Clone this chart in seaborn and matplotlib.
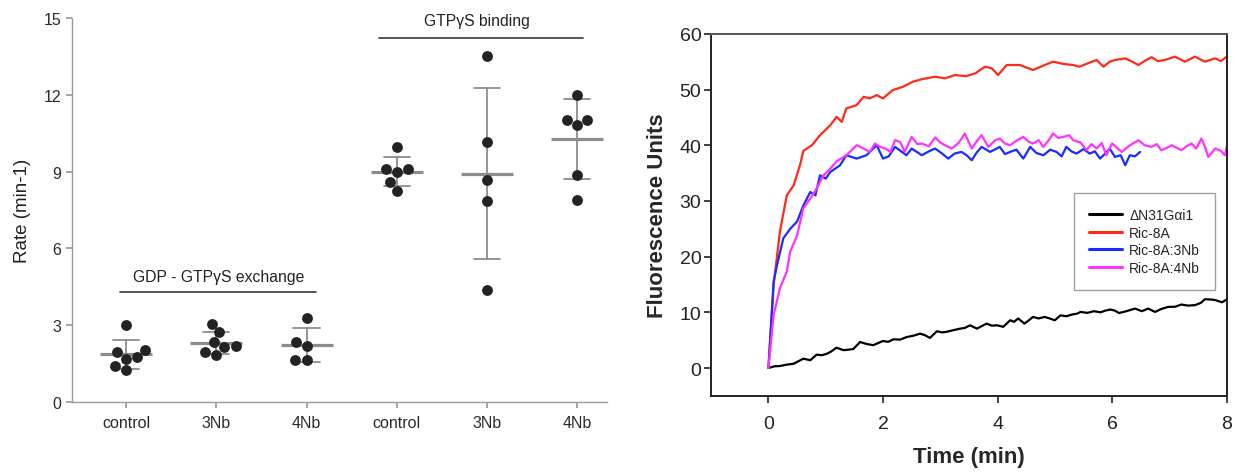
import matplotlib
matplotlib.use("Agg")
import matplotlib.pyplot as plt
import numpy as np
import pandas as pd
import seaborn as sns

# left panel: rates (min-1)
group_keys = ["gdp_control", "gdp_3nb", "gdp_4nb", "gtp_control", "gtp_3nb", "gtp_4nb"]
tick_labels = ["control", "3Nb", "4Nb", "control", "3Nb", "4Nb"]
gdp_control = [3.0, 2.05, 1.95, 1.75, 1.7, 1.4, 1.25]
gdp_3nb = [3.05, 2.73, 2.35, 2.2, 2.15, 1.95, 1.85]
gdp_4nb = [3.27, 2.33, 2.2, 1.65, 1.65]
gtp_control = [9.95, 9.1, 9.1, 9.0, 8.6, 8.25]
gtp_3nb = [13.53, 10.14, 8.67, 7.84, 4.38]
gtp_4nb = [11.99, 11.03, 11.03, 10.83, 8.88, 7.89]

# right panel: fluorescence traces
t_black = [0, 0.1, 0.2, 0.32, 0.44, 0.52, 0.61, 0.73, 0.84, 0.93, 1.02, 1.1, 1.19, 1.31, 1.4,
           1.48, 1.6, 1.72, 1.83, 1.92, 2.0, 2.09, 2.18, 2.3, 2.41, 2.53, 2.65, 2.73, 2.82,
           2.94, 3.03, 3.11, 3.23, 3.35, 3.43, 3.52, 3.64, 3.72, 3.81, 3.9, 3.99, 4.1, 4.22,
           4.29, 4.36, 4.47, 4.55, 4.62, 4.72, 4.82, 4.91, 5.0, 5.1, 5.2, 5.3, 5.39, 5.45,
           5.57, 5.68, 5.8, 5.88, 5.97, 6.05, 6.12, 6.25, 6.4, 6.52, 6.63, 6.75, 6.86, 6.98,
           7.1, 7.21, 7.33, 7.45, 7.55, 7.62, 7.72, 7.8, 7.92, 8.0]
f_black = [0, 0.3, 0.36, 0.6, 0.77, 1.2, 1.67, 1.4, 2.4, 2.3, 2.55, 3.0, 3.65, 3.2, 3.3,
           3.4, 4.67, 4.3, 4.1, 4.5, 4.85, 4.7, 5.15, 5.1, 5.55, 5.8, 6.17, 5.9, 5.4,
           6.6, 6.4, 6.5, 6.8, 7.07, 7.2, 7.67, 7.07, 7.5, 7.97, 7.6, 7.67, 7.4, 8.57,
           8.3, 8.9, 7.97, 8.6, 9.17, 8.9, 9.17, 8.9, 8.57, 9.46, 9.3, 9.6, 9.76, 10.07,
           9.9, 10.2, 10.0, 10.3, 10.5, 10.3, 9.87, 10.2, 10.67, 10.2, 10.67, 10.07, 10.6, 10.97,
           11.0, 11.4, 11.2, 11.3, 11.7, 12.35, 12.3, 12.2, 11.8, 12.3]

t_red = [0, 0.09, 0.2, 0.32, 0.44, 0.55, 0.61, 0.76, 0.9, 1.08, 1.19, 1.28, 1.36, 1.54,
         1.66, 1.77, 1.89, 2.0, 2.17, 2.35, 2.52, 2.7, 2.91, 3.08, 3.26, 3.45, 3.61, 3.78,
         3.9, 4.01, 4.16, 4.39, 4.62, 4.8, 4.97, 5.15, 5.32, 5.43, 5.6, 5.73, 5.85, 5.96,
         6.05, 6.23, 6.35, 6.46, 6.58, 6.69, 6.8, 6.92, 7.1, 7.27, 7.45, 7.62, 7.8, 7.9, 8.0]
f_red = [0, 14.9, 24.5, 31.0, 32.8, 36.4, 39.0, 40.0, 41.8, 43.6, 45.1, 44.2, 46.6, 47.2,
         48.7, 48.4, 49.0, 48.4, 49.9, 50.5, 51.4, 51.9, 52.3, 52.0, 52.6, 52.4, 52.9, 54.1,
         53.8, 52.6, 54.4, 54.4, 53.5, 54.3, 55.0, 54.6, 54.4, 54.1, 54.8, 55.3, 54.1, 55.0,
         55.3, 55.6, 55.0, 54.4, 55.2, 55.8, 55.1, 55.3, 55.9, 55.0, 55.9, 55.0, 55.6, 55.1, 55.9]

t_blue = [0, 0.09, 0.15, 0.26, 0.38, 0.5, 0.61, 0.73, 0.82, 0.9, 1.0, 1.08, 1.25, 1.36,
          1.54, 1.71, 1.89, 2.0, 2.1, 2.21, 2.41, 2.5, 2.68, 2.8, 2.91, 3.02, 3.14, 3.25,
          3.37, 3.46, 3.55, 3.63, 3.72, 3.87, 4.04, 4.13, 4.22, 4.33, 4.45, 4.57, 4.68, 4.8,
          4.92, 5.03, 5.12, 5.2, 5.29, 5.38, 5.5, 5.61, 5.7, 5.79, 5.88, 5.96, 6.05, 6.15,
          6.23, 6.31, 6.4, 6.49]
f_blue = [0, 15.5, 18.5, 23.3, 25.0, 26.3, 29.2, 31.6, 31.0, 34.6, 34.0, 35.2, 36.4, 38.2,
          37.6, 38.2, 40.0, 37.6, 38.0, 39.7, 38.2, 39.4, 38.2, 38.9, 39.4, 38.6, 37.6, 38.5,
          38.8, 38.2, 37.3, 38.6, 39.7, 38.8, 39.7, 38.4, 38.8, 39.2, 37.6, 39.7, 38.6, 38.2,
          39.2, 38.8, 38.0, 39.7, 38.9, 38.5, 39.3, 38.5, 38.9, 37.6, 38.5, 39.4, 37.9, 38.2,
          36.4, 38.2, 38.0, 38.8]

t_mag = [0, 0.09, 0.2, 0.32, 0.38, 0.5, 0.61, 0.73, 0.84, 0.96, 1.08, 1.19, 1.36, 1.54,
         1.66, 1.77, 1.86, 1.95, 2.04, 2.13, 2.21, 2.3, 2.38, 2.5, 2.6, 2.68, 2.8, 2.91,
         3.0, 3.08, 3.2, 3.32, 3.43, 3.55, 3.63, 3.72, 3.84, 3.96, 4.04, 4.13, 4.22, 4.33,
         4.45, 4.55, 4.62, 4.72, 4.8, 4.9, 4.97, 5.06, 5.15, 5.25, 5.32, 5.45, 5.55, 5.64,
         5.73, 5.82, 5.9, 6.0, 6.08, 6.17, 6.3, 6.46, 6.57, 6.69, 6.78, 6.86, 6.95, 7.04,
         7.12, 7.21, 7.3, 7.39, 7.47, 7.56, 7.62, 7.68, 7.8, 7.9, 7.97, 8.0]
f_mag = [0, 9.5, 14.3, 17.3, 20.9, 23.8, 28.7, 30.4, 32.2, 34.6, 35.8, 37.1, 38.2, 40.0,
         39.4, 38.8, 40.3, 39.7, 39.4, 38.8, 40.9, 40.6, 38.8, 41.5, 40.2, 40.3, 39.8, 41.4,
         40.5, 40.0, 39.4, 40.4, 42.1, 39.4, 40.6, 41.8, 39.7, 40.9, 41.2, 40.3, 40.0, 40.8,
         41.5, 40.6, 40.3, 40.9, 39.7, 41.0, 42.1, 41.3, 41.5, 41.8, 40.9, 40.5, 39.1, 40.2,
         39.4, 40.4, 38.2, 40.3, 39.6, 38.8, 39.9, 40.9, 40.0, 39.7, 40.2, 39.1, 39.5, 40.0,
         39.6, 39.1, 39.8, 40.3, 39.4, 41.2, 39.8, 37.9, 39.4, 39.0, 38.2, 39.7]

series = [
    ("\u0394N31G\u03b1i1", t_black, f_black, "black"),
    ("Ric-8A", t_red, f_red, "#ff2a1a"),
    ("Ric-8A:3Nb", t_blue, f_blue, "#1a2cff"),
    ("Ric-8A:4Nb", t_mag, f_mag, "#ff33ff"),
]

sns.set_theme(style="ticks")
plt.rcParams["font.family"] = ["Liberation Sans", "DejaVu Sans"]

fig = plt.figure(figsize=(12.39, 4.77), dpi=100)

# ---- left: dot plot with mean +/- SD
ax1 = fig.add_axes([0.058, 0.155, 0.432, 0.805])
values = [gdp_control, gdp_3nb, gdp_4nb, gtp_control, gtp_3nb, gtp_4nb]
df = pd.DataFrame({
    "group": np.concatenate([[k] * len(v) for k, v in zip(group_keys, values)]),
    "rate": np.concatenate(values),
})

gray = "#8c8c8c"
sns.pointplot(data=df, x="group", y="rate", order=group_keys, errorbar="sd",
              capsize=0.29, color=gray, marker="_", markersize=37, markeredgewidth=2.3,
              linestyle="none", err_kws={"linewidth": 1.3, "color": gray}, ax=ax1)
sns.swarmplot(data=df, x="group", y="rate", order=group_keys, color="#232323",
              size=7.8, ax=ax1, zorder=5)

ax1.set_xlim(-0.6, 5.33)
ax1.set_ylim(0, 15)
ax1.set_yticks([0, 3, 6, 9, 12, 15])
ax1.set_xticks(range(6))
ax1.set_xticklabels(tick_labels)
ax1.set_xlabel("")
ax1.set_ylabel("Rate (min-1)", fontsize=13.5, color="#222222", labelpad=9)
for s in ["top", "right"]:
    ax1.spines[s].set_visible(False)
for s in ["left", "bottom"]:
    ax1.spines[s].set_color("#9a9a9a")
    ax1.spines[s].set_linewidth(1.0)
ax1.tick_params(axis="both", colors="#9a9a9a", labelcolor="#2a2a2a", labelsize=11.5, length=4)
ax1.tick_params(axis="x", pad=5)

ax1.plot([-0.07, 2.1], [4.3, 4.3], color="#3a3a3a", lw=1.2, clip_on=False)
ax1.text(1.03, 4.9, "GDP - GTP\u03b3S exchange", ha="center", va="center",
         fontsize=11.3, color="#222222")
ax1.plot([2.8, 5.06], [14.23, 14.23], color="#3a3a3a", lw=1.2, clip_on=False)
ax1.text(3.89, 14.9, "GTP\u03b3S binding", ha="center", va="center",
         fontsize=11.3, color="#222222", clip_on=False)

# ---- right: fluorescence traces
ax2 = fig.add_axes([0.574, 0.168, 0.416, 0.759])
for name, t, f, c in series:
    sns.lineplot(x=t, y=f, color=c, label=name, linewidth=1.6, sort=False,
                 estimator=None, ax=ax2)

ax2.set_xlim(-1, 8)
ax2.set_ylim(-5, 60)
ax2.set_xticks([0, 2, 4, 6, 8])
ax2.set_yticks([0, 10, 20, 30, 40, 50, 60])
ax2.set_xlabel("Time (min)", fontsize=16, fontweight="bold", labelpad=10)
ax2.set_ylabel("Fluorescence Units", fontsize=16, fontweight="bold", labelpad=8)
for s in ax2.spines.values():
    s.set_color("#222222")
    s.set_linewidth(1.4)
ax2.spines["top"].set_color("#555555")
ax2.tick_params(axis="both", labelsize=14, length=5, width=1.2, colors="#222222")
ax2.tick_params(axis="y", pad=2)
ax2.tick_params(axis="x", pad=9)

leg = ax2.legend(loc="upper left", bbox_to_anchor=(0.69, 0.58), fontsize=10,
                 frameon=True, fancybox=False, edgecolor="#8a8a8a",
                 handlelength=2.4, handletextpad=0.5, borderpad=1.1, labelspacing=0.25)
leg.get_frame().set_linewidth(1.0)
for h in leg.get_lines():
    h.set_linewidth(2.2)

fig.savefig("out.png", dpi=100)
